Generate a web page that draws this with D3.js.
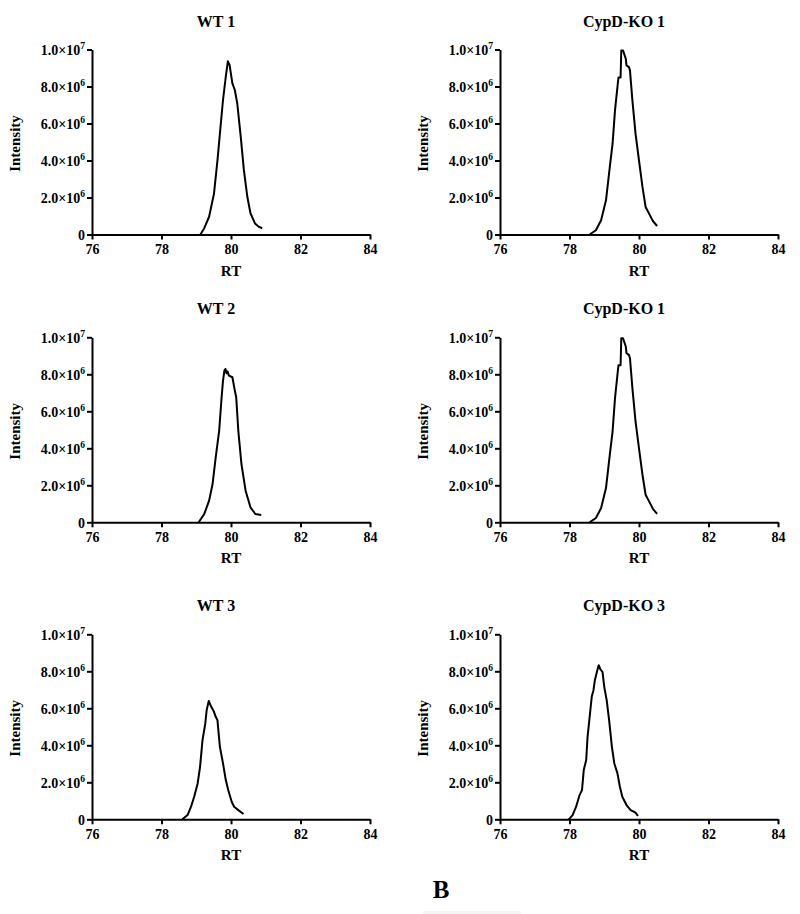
<!DOCTYPE html>
<html>
<head>
<meta charset="utf-8">
<script src="https://cdn.jsdelivr.net/npm/d3@7"></script>
<style>
  html, body { margin: 0; padding: 0; background: #fff; }
  svg { display: block; }
</style>
</head>
<body>
<svg id="chart" width="800" height="914"></svg>
<script>
// ---------- data ----------
const panelTitles = ["WT 1", "CypD-KO 1", "WT 2", "CypD-KO 1", "WT 3", "CypD-KO 3"];
const xTicks = [76, 78, 80, 82, 84];
const yTicks = [0, 2e6, 4e6, 6e6, 8e6, 1e7];
const yTickLabels = [["0", ""], ["2.0×10", "6"], ["4.0×10", "6"], ["6.0×10", "6"], ["8.0×10", "6"], ["1.0×10", "7"]];
const xLabel = "RT";
const yLabel = "Intensity";
const figureLetter = "B";

const wt1RT  = [79.12, 79.23, 79.37, 79.51, 79.61, 79.69, 79.77, 79.85, 79.91, 79.96, 80.04, 80.11, 80.18, 80.28, 80.37, 80.47, 80.56, 80.69, 80.80, 80.90];
const wt1Int = [0, 0.34e6, 0.96e6, 2.2e6, 4.0e6, 5.65e6, 7.27e6, 8.53e6, 9.36e6, 9.16e6, 8.17e6, 7.81e6, 7.09e6, 5.29e6, 3.49e6, 2.04e6, 1.15e6, 0.6e6, 0.42e6, 0.34e6];

const ko1RT  = [78.58, 78.76, 78.91, 79.05, 79.16, 79.24, 79.31, 79.38, 79.41, 79.47, 79.49, 79.54, 79.62, 79.64, 79.71, 79.74, 79.81, 79.90, 80.00, 80.10, 80.19, 80.29, 80.40, 80.52];
const ko1Int = [0, 0.23e6, 0.77e6, 1.85e6, 3.66e6, 4.92e6, 6.72e6, 7.98e6, 8.49e6, 8.49e6, 9.95e6, 9.95e6, 9.5e6, 9.14e6, 9.05e6, 8.87e6, 7.25e6, 5.45e6, 4.0e6, 2.57e6, 1.49e6, 1.13e6, 0.73e6, 0.46e6];

const wt2RT  = [79.07, 79.23, 79.37, 79.47, 79.56, 79.66, 79.73, 79.77, 79.81, 79.84, 79.87, 79.90, 79.94, 80.04, 80.11, 80.15, 80.21, 80.30, 80.42, 80.56, 80.70, 80.87];
const wt2Int = [0, 0.45e6, 1.17e6, 2.07e6, 3.51e6, 4.96e6, 6.76e6, 7.66e6, 8.2e6, 8.29e6, 8.05e6, 8.16e6, 7.93e6, 7.84e6, 7.12e6, 6.76e6, 4.96e6, 3.15e6, 1.71e6, 0.81e6, 0.45e6, 0.4e6];

const wt3RT  = [78.60, 78.75, 78.85, 78.94, 79.04, 79.11, 79.18, 79.26, 79.30, 79.36, 79.42, 79.51, 79.56, 79.61, 79.68, 79.77, 79.85, 79.92, 80.02, 80.09, 80.23, 80.36];
const wt3Int = [0, 0.23e6, 0.68e6, 1.22e6, 1.94e6, 2.84e6, 4.28e6, 5.18e6, 5.9e6, 6.4e6, 6.12e6, 5.81e6, 5.54e6, 5.36e6, 3.92e6, 3.02e6, 2.12e6, 1.58e6, 0.95e6, 0.68e6, 0.47e6, 0.29e6];

const ko3RT  = [77.98, 78.09, 78.19, 78.29, 78.36, 78.41, 78.48, 78.52, 78.59, 78.64, 78.69, 78.73, 78.79, 78.84, 78.89, 78.95, 79.00, 79.07, 79.14, 79.22, 79.29, 79.38, 79.45, 79.52, 79.64, 79.76, 79.90, 79.97];
const ko3Int = [0, 0.23e6, 0.68e6, 1.31e6, 1.58e6, 2.66e6, 3.2e6, 4.46e6, 5.72e6, 6.62e6, 6.98e6, 7.52e6, 7.97e6, 8.33e6, 8.1e6, 7.97e6, 7.16e6, 6.44e6, 5.36e6, 3.92e6, 3.02e6, 2.48e6, 1.76e6, 1.22e6, 0.77e6, 0.5e6, 0.36e6, 0.18e6];

const panelRT  = [wt1RT, ko1RT, wt2RT, ko1RT, wt3RT, ko3RT];
const panelInt = [wt1Int, ko1Int, wt2Int, ko1Int, wt3Int, ko3Int];

// ---------- layout ----------
const FONT = '"Liberation Serif", "Times New Roman", Tinos, serif';
const colX = [92, 500];
const plotW = 278;
const rowTop = [49.5, 337.3, 634.3];
const plotH = 185;

const svg = d3.select("#chart");

function styleText(sel, size) {
  return sel.style("font-family", FONT).style("font-weight", "bold")
    .style("font-size", size + "px").style("fill", "#000");
}

panelTitles.forEach((title, i) => {
  const col = i % 2, row = Math.floor(i / 2);
  const x0 = colX[col], y0 = rowTop[row];
  const g = svg.append("g").attr("transform", `translate(${x0},${y0})`);

  const x = d3.scaleLinear().domain([76, 84]).range([0, plotW]);
  const y = d3.scaleLinear().domain([0, 1e7]).range([plotH, 0]);

  const xa = g.append("g").attr("transform", `translate(0,${plotH})`)
    .call(d3.axisBottom(x).tickValues(xTicks).tickSize(5).tickSizeOuter(0).tickPadding(5).tickFormat(d3.format("d")));
  const ya = g.append("g")
    .call(d3.axisLeft(y).tickValues(yTicks).tickSize(5).tickSizeOuter(0).tickPadding(3).tickFormat(""));

  [xa, ya].forEach(a => {
    a.select(".domain").attr("stroke", "#000").attr("stroke-width", 2);
    a.selectAll(".tick line").attr("stroke", "#000").attr("stroke-width", 2);
  });
  styleText(xa.selectAll(".tick text"), 14);

  ya.selectAll(".tick").each(function(d) {
    const t = styleText(d3.select(this).select("text"), 14)
      .attr("x", -7).attr("dy", "0.34em").text(null);
    const lab = yTickLabels[yTicks.indexOf(d)];
    t.append("tspan").text(lab[0]);
    if (lab[1]) t.append("tspan").style("font-size", "9.5px").attr("dy", "-0.6em").text(lab[1]);
  });

  const pts = panelRT[i].map((r, k) => [r, panelInt[i][k]]);
  g.append("path").datum(pts)
    .attr("fill", "none").attr("stroke", "#000").attr("stroke-width", 2)
    .attr("stroke-linejoin", "round")
    .attr("d", d3.line().x(d => x(d[0])).y(d => y(d[1])));

  styleText(svg.append("text"), 16).attr("x", x0 + 124).attr("y", y0 - 23)
    .attr("text-anchor", "middle").text(title);
  styleText(svg.append("text"), 15).attr("x", x0 + 139).attr("y", y0 + plotH + 41)
    .attr("text-anchor", "middle").text(xLabel);
  styleText(svg.append("text"), 15)
    .attr("transform", `translate(${x0 - 72},${y0 + 94}) rotate(-90)`)
    .attr("text-anchor", "middle").text(yLabel);
});

styleText(svg.append("text"), 25).attr("x", 441).attr("y", 898).attr("text-anchor", "middle")
  .text(figureLetter);
svg.append("rect").attr("x", 423).attr("y", 911).attr("width", 98).attr("height", 3).attr("fill", "#f4f4f4");
</script>
</body>
</html>
